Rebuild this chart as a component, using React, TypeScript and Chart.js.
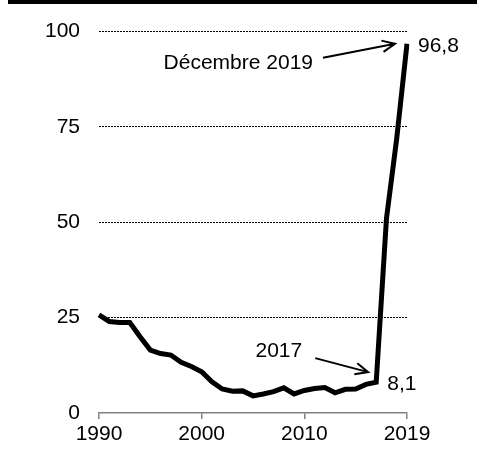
import React, { useEffect, useRef } from 'react';
import { Chart, registerables } from 'chart.js';

Chart.register(...registerables);

const categories = [
  '1990', '1991', '1992', '1993', '1994', '1995', '1996', '1997', '1998', '1999',
  '2000', '2001', '2002', '2003', '2004', '2005', '2006', '2007', '2008', '2009',
  '2010', '2011', '2012', '2013', '2014', '2015', '2016', '2017', '2018', 'Juin 2019',
  'Décembre 2019',
];
const values = [
  25.7, 24.0, 23.7, 23.7, 20.0, 16.5, 15.6, 15.2, 13.3, 12.2,
  10.8, 8.2, 6.3, 5.7, 5.8, 4.5, 5.0, 5.6, 6.6, 5.0,
  5.9, 6.4, 6.7, 5.3, 6.2, 6.3, 7.5, 8.1, 51.0, 72.0,
  96.8,
];
const shownTicks = ['1990', '2000', '2010', 'Décembre 2019'];
const shownTickText = ['1990', '2000', '2010', '2019'];
const yMin = 0;
const yMax = 100;
const yStep = 25;
const valueLabels = [
  { category: 'Décembre 2019', text: '96,8', note: 'Décembre 2019' },
  { category: '2017', text: '8,1', note: '2017' },
];

const FONT = '"Liberation Sans", Arial, Helvetica, sans-serif';

function drawArrow(ctx: CanvasRenderingContext2D, x1: number, y1: number, x2: number, y2: number) {
  const ang = Math.atan2(y2 - y1, x2 - x1);
  const head = 14;
  const spread = 0.42;
  ctx.beginPath();
  ctx.moveTo(x1, y1);
  ctx.lineTo(x2, y2);
  ctx.moveTo(x2 - head * Math.cos(ang - spread), y2 - head * Math.sin(ang - spread));
  ctx.lineTo(x2, y2);
  ctx.lineTo(x2 - head * Math.cos(ang + spread), y2 - head * Math.sin(ang + spread));
  ctx.stroke();
}

const annotationPlugin = {
  id: 'annotations',
  afterDatasetsDraw(chart: any) {
    const ctx = chart.ctx as CanvasRenderingContext2D;
    const xs = chart.scales.x;
    const ys = chart.scales.y;
    ctx.save();
    ctx.fillStyle = '#000';
    ctx.strokeStyle = '#000';
    ctx.lineWidth = 2;
    ctx.font = `21px ${FONT}`;
    valueLabels.forEach((v, i) => {
      const idx = categories.indexOf(v.category);
      const px = xs.getPixelForValue(idx);
      const py = ys.getPixelForValue(values[idx]);
      ctx.textAlign = 'left';
      ctx.textBaseline = 'middle';
      ctx.fillText(v.text, px + 11, py + 2);
      if (i === 0) {
        drawArrow(ctx, px - 84, py + 14, px - 12, py);
        ctx.textAlign = 'right';
        ctx.fillText(v.note, px - 94, py + 19);
      } else {
        drawArrow(ctx, px - 61, py - 24, px - 8, py - 10);
        ctx.textAlign = 'right';
        ctx.fillText(v.note, px - 74, py - 31);
      }
    });
    ctx.restore();
  },
};

function LineChart() {
  const ref = useRef<HTMLCanvasElement | null>(null);
  useEffect(() => {
    if (!ref.current) return;
    const chart = new Chart(ref.current, {
      type: 'line',
      data: {
        labels: categories,
        datasets: [
          {
            data: values,
            borderColor: '#000',
            borderWidth: 5,
            pointRadius: 0,
            tension: 0,
            fill: false,
          },
        ],
      },
      options: {
        responsive: false,
        animation: false,
        layout: { padding: { top: 31, right: 72, left: 0, bottom: 0 } },
        plugins: { legend: { display: false }, tooltip: { enabled: false } },
        scales: {
          x: {
            type: 'category',
            offset: false,
            afterFit: (s: any) => { s.height = 43; },
            border: { display: true, color: '#808080', width: 1.5 },
            grid: {
              display: true,
              drawOnChartArea: false,
              drawTicks: true,
              tickLength: 6,
              color: '#808080',
              lineWidth: 1.5,
            },
            ticks: {
              autoSkip: false,
              maxRotation: 0,
              padding: 3,
              color: '#000',
              font: { family: FONT, size: 21 },
              callback: (_v: any, i: number) => {
                const k = shownTicks.indexOf(categories[i]);
                return k >= 0 ? shownTickText[k] : null;
              },
            },
          },
          y: {
            min: yMin,
            max: yMax,
            afterFit: (s: any) => { s.width = 99; },
            border: { display: false, dash: [2, 1] },
            grid: {
              drawTicks: false,
              lineWidth: 1,
              color: (c: any) => (c.tick && c.tick.value === 0 ? 'rgba(0,0,0,0)' : '#000'),
            },
            ticks: {
              stepSize: yStep,
              padding: 19,
              color: '#000',
              font: { family: FONT, size: 21 },
            },
          },
        },
      },
      plugins: [annotationPlugin],
    });
    return () => chart.destroy();
  }, []);
  return <canvas ref={ref} width={479} height={456} style={{ display: 'block', width: 479, height: 456 }} />;
}

export default function App() {
  return (
    <div style={{ position: 'absolute', left: 0, top: 0, width: 479, height: 456, background: '#fff' }}>
      <LineChart />
      <div style={{ position: 'absolute', left: 8, top: 0, width: 469, height: 4, background: '#000' }} />
    </div>
  );
}
